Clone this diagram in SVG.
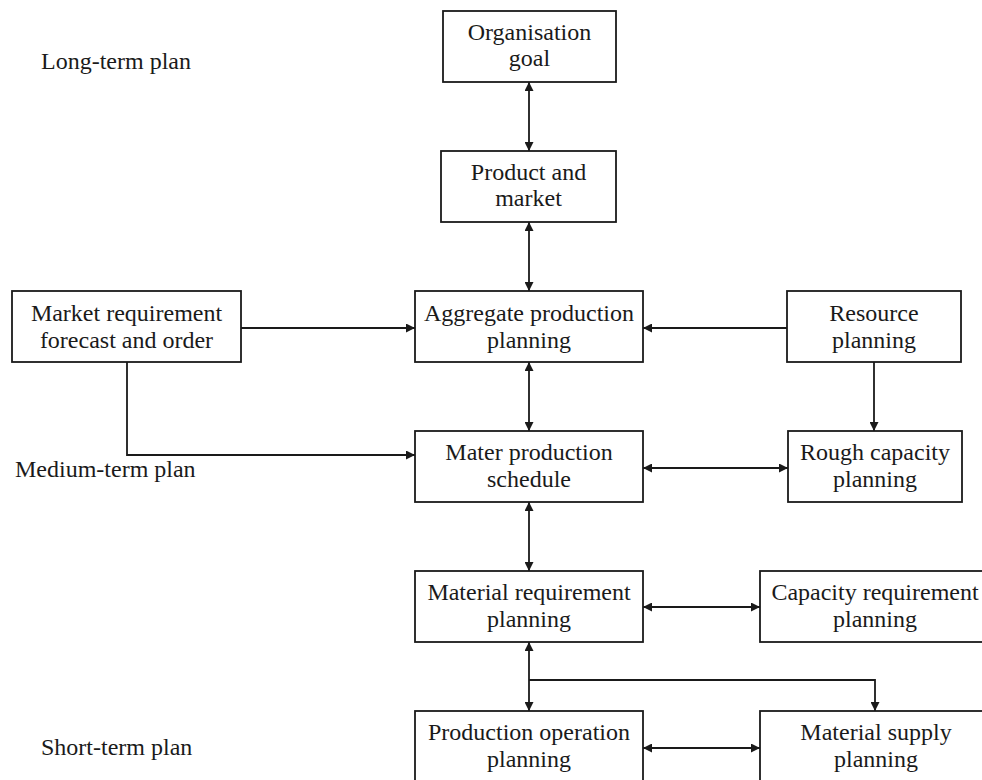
<svg xmlns="http://www.w3.org/2000/svg" width="982" height="780" viewBox="0 0 982 780">
<defs>
<style>
.box{fill:#fff;stroke:#1a1a1a;stroke-width:1.8}
.t{font-family:"Liberation Serif","Times New Roman",serif;font-size:24px;fill:#1a1a1a;text-anchor:middle}
.lbl{font-family:"Liberation Serif","Times New Roman",serif;font-size:24px;fill:#1a1a1a}
.c{fill:none;stroke:#1a1a1a;stroke-width:1.8}
</style>
<marker id="ah" viewBox="0 0 10 10" refX="10" refY="5" markerWidth="10" markerHeight="9" markerUnits="userSpaceOnUse" orient="auto-start-reverse">
<path d="M0,0 L10,5 L0,10 z" fill="#1a1a1a"/>
</marker>
</defs>
<rect width="982" height="780" fill="#fff"/>

<g id="labels">
<text class="lbl" x="41" y="69">Long-term plan</text>
<text class="lbl" x="15" y="477">Medium-term plan</text>
<text class="lbl" x="41" y="755">Short-term plan</text>
</g>

<g id="connectors">
<path class="c" d="M529,82 V151" marker-start="url(#ah)" marker-end="url(#ah)"/>
<path class="c" d="M529,222 V291" marker-start="url(#ah)" marker-end="url(#ah)"/>
<path class="c" d="M529,362 V431" marker-start="url(#ah)" marker-end="url(#ah)"/>
<path class="c" d="M529,502 V571" marker-start="url(#ah)" marker-end="url(#ah)"/>
<path class="c" d="M529,642 V711" marker-start="url(#ah)" marker-end="url(#ah)"/>
<path class="c" d="M529,680 H875 V711" marker-end="url(#ah)"/>
<path class="c" d="M241,328 H415" marker-end="url(#ah)"/>
<path class="c" d="M787,328 H643" marker-end="url(#ah)"/>
<path class="c" d="M127,362 V455 H415" marker-end="url(#ah)"/>
<path class="c" d="M874,362 V431" marker-end="url(#ah)"/>
<path class="c" d="M643,468 H788" marker-start="url(#ah)" marker-end="url(#ah)"/>
<path class="c" d="M643,607 H760" marker-start="url(#ah)" marker-end="url(#ah)"/>
<path class="c" d="M643,748 H760" marker-start="url(#ah)" marker-end="url(#ah)"/>
</g>

<g id="organisation-goal">
<rect class="box" x="443" y="11" width="173" height="71"/>
<text class="t" x="529.5" y="40">Organisation</text>
<text class="t" x="529.5" y="66">goal</text>
</g>
<g id="product-market">
<rect class="box" x="441" y="151" width="175" height="71"/>
<text class="t" x="528.5" y="180">Product and</text>
<text class="t" x="528.5" y="206">market</text>
</g>
<g id="market-requirement">
<rect class="box" x="12" y="291" width="229" height="71"/>
<text class="t" x="126.5" y="321">Market requirement</text>
<text class="t" x="126.5" y="348">forecast and order</text>
</g>
<g id="aggregate-production">
<rect class="box" x="415" y="291" width="228" height="71"/>
<text class="t" x="529" y="321">Aggregate production</text>
<text class="t" x="529" y="348">planning</text>
</g>
<g id="resource-planning">
<rect class="box" x="787" y="291" width="174" height="71"/>
<text class="t" x="874" y="321">Resource</text>
<text class="t" x="874" y="348">planning</text>
</g>
<g id="master-production-schedule">
<rect class="box" x="415" y="431" width="228" height="71"/>
<text class="t" x="529" y="460">Mater production</text>
<text class="t" x="529" y="487">schedule</text>
</g>
<g id="rough-capacity">
<rect class="box" x="788" y="431" width="174" height="71"/>
<text class="t" x="875" y="460">Rough capacity</text>
<text class="t" x="875" y="487">planning</text>
</g>
<g id="material-requirement">
<rect class="box" x="415" y="571" width="228" height="71"/>
<text class="t" x="529" y="600">Material requirement</text>
<text class="t" x="529" y="627">planning</text>
</g>
<g id="capacity-requirement">
<rect class="box" x="760" y="571" width="232" height="71"/>
<text class="t" x="875" y="600">Capacity requirement</text>
<text class="t" x="875" y="627">planning</text>
</g>
<g id="production-operation">
<rect class="box" x="415" y="711" width="228" height="75"/>
<text class="t" x="529" y="740">Production operation</text>
<text class="t" x="529" y="767">planning</text>
</g>
<g id="material-supply">
<rect class="box" x="760" y="711" width="232" height="75"/>
<text class="t" x="876" y="740">Material supply</text>
<text class="t" x="876" y="767">planning</text>
</g>
</svg>
